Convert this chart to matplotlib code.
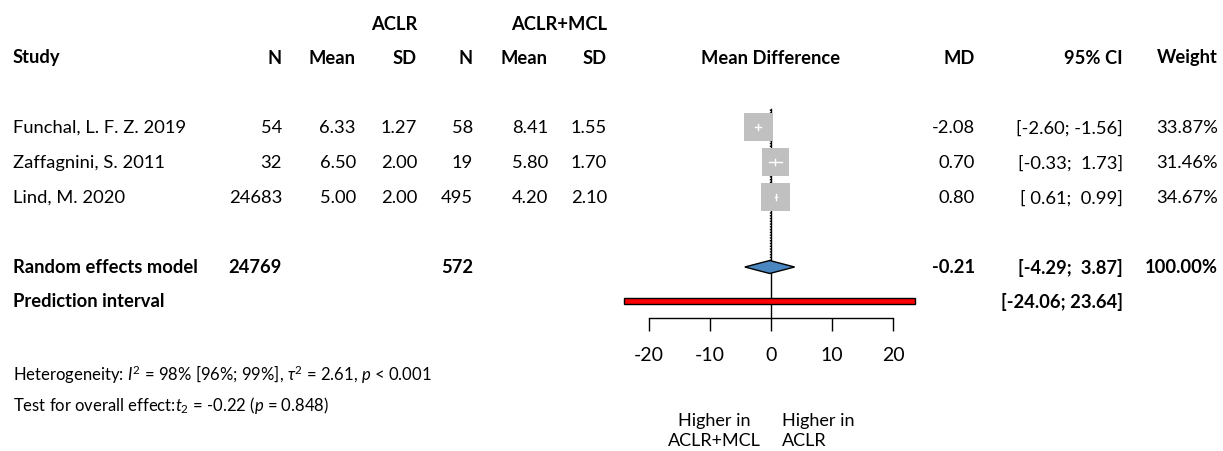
import matplotlib
matplotlib.use("Agg")
import matplotlib.pyplot as plt
import numpy as np

plt.rcParams['font.family'] = ['Lato', 'DejaVu Sans']
plt.rcParams['mathtext.fontset'] = 'custom'
plt.rcParams['mathtext.rm'] = 'Lato'
plt.rcParams['mathtext.it'] = 'Lato:italic'

# study data
studies = ["Funchal, L. F. Z. 2019", "Zaffagnini, S. 2011", "Lind, M. 2020"]
n_aclr = [54, 32, 24683]
mean_aclr = [6.33, 6.50, 5.00]
sd_aclr = [1.27, 2.00, 2.00]
n_mcl = [58, 19, 495]
mean_mcl = [8.41, 5.80, 4.20]
sd_mcl = [1.55, 1.70, 2.10]
md = [-2.08, 0.70, 0.80]
ci_low = [-2.60, -0.33, 0.61]
ci_high = [-1.56, 1.73, 0.99]
weight = [33.87, 31.46, 34.67]

# pooled results
re_n_aclr, re_n_mcl = 24769, 572
re_md, re_low, re_high = -0.21, -4.29, 3.87
pi_low, pi_high = -24.06, 23.64

x_ticks = [-20, -10, 0, 10, 20]

W, H = 1223, 452
fig = plt.figure(figsize=(W / 100, H / 100), dpi=100)
ax = fig.add_axes([0, 0, 1, 1])
ax.set_xlim(0, W)
ax.set_ylim(H, 0)
ax.axis('off')

# row layout (pixels from top)
y_group = 24
y_head = 58
row_y = [128, 163, 198]
y_re = 268
y_pi = 302
fs = 13.2

# column right edges
col_x = [282, 356, 417, 473, 548, 607]
x_md, x_ci, x_w = 975, 1123, 1218
x0 = 13

ax.text(col_x[2], y_group, "ACLR", ha='right', va='center', fontsize=fs, fontweight='bold')
ax.text(col_x[5], y_group, "ACLR+MCL", ha='right', va='center', fontsize=fs, fontweight='bold')
ax.text(x0, y_head, "Study", ha='left', va='center', fontsize=fs, fontweight='bold')
for x, lab in zip(col_x, ["N", "Mean", "SD", "N", "Mean", "SD"]):
    ax.text(x, y_head, lab, ha='right', va='center', fontsize=fs, fontweight='bold')
ax.text(771, y_head, "Mean Difference", ha='center', va='center', fontsize=fs, fontweight='bold')
ax.text(x_md, y_head, "MD", ha='right', va='center', fontsize=fs, fontweight='bold')
ax.text(x_ci, y_head, "95% CI", ha='right', va='center', fontsize=fs, fontweight='bold')
ax.text(x_w, y_head, "Weight", ha='right', va='center', fontsize=fs, fontweight='bold')

for i, y in enumerate(row_y):
    ax.text(x0, y, studies[i], ha='left', va='center', fontsize=fs)
    vals = [f"{n_aclr[i]}", f"{mean_aclr[i]:.2f}", f"{sd_aclr[i]:.2f}",
            f"{n_mcl[i]}", f"{mean_mcl[i]:.2f}", f"{sd_mcl[i]:.2f}"]
    for x, v in zip(col_x, vals):
        ax.text(x, y, v, ha='right', va='center', fontsize=fs)
    ax.text(x_md, y, f"{md[i]:.2f}", ha='right', va='center', fontsize=fs)
    ax.text(x_ci, y, f"[{ci_low[i]:5.2f}; {ci_high[i]:5.2f}]", ha='right', va='center', fontsize=fs)
    ax.text(x_w, y, f"{weight[i]:.2f}%", ha='right', va='center', fontsize=fs)

ax.text(x0, y_re, "Random effects model", ha='left', va='center', fontsize=fs, fontweight='bold')
ax.text(col_x[0], y_re, f"{re_n_aclr}", ha='right', va='center', fontsize=fs, fontweight='bold')
ax.text(col_x[3], y_re, f"{re_n_mcl}", ha='right', va='center', fontsize=fs, fontweight='bold')
ax.text(x_md, y_re, f"{re_md:.2f}", ha='right', va='center', fontsize=fs, fontweight='bold')
ax.text(x_ci, y_re, f"[{re_low:5.2f}; {re_high:5.2f}]", ha='right', va='center', fontsize=fs, fontweight='bold')
ax.text(x_w, y_re, f"{sum(weight):.2f}%", ha='right', va='center', fontsize=fs, fontweight='bold')
ax.text(x0, y_pi, "Prediction interval", ha='left', va='center', fontsize=fs, fontweight='bold')
ax.text(x_ci, y_pi, f"[{pi_low:.2f}; {pi_high:.2f}]", ha='right', va='center', fontsize=fs, fontweight='bold')

ax.text(x0, 375, r"Heterogeneity: $I^2$ = 98% [96%; 99%], $\tau^2$ = 2.61, $p$ < 0.001",
        ha='left', va='center', fontsize=12)
ax.text(x0, 406, r"Test for overall effect:$t_2$ = -0.22 ($p$ = 0.848)",
        ha='left', va='center', fontsize=12)

# forest panel: x in mean difference units, y in the same pixel rows
fx = fig.add_axes([649 / W, 0, 244 / W, 1])
fx.set_xlim(-20, 20)
fx.set_ylim(H, 0)
fx.patch.set_alpha(0)
for s in ['top', 'left', 'right']:
    fx.spines[s].set_visible(False)
fx.spines['bottom'].set_position(('data', 319))
fx.spines['bottom'].set_bounds(-20, 20)
fx.spines['bottom'].set_linewidth(1.0)
fx.set_yticks([])
fx.set_xticks(x_ticks)
fx.set_xticklabels([str(t) for t in x_ticks], fontsize=14)
fx.tick_params(axis='x', direction='out', length=9.5, width=1.0, pad=11)

fx.plot([0, 0], [110, 319], color='black', lw=1.0, zorder=1)
fx.plot([re_md, re_md], [110, y_re - 7], color='black', lw=1.0, ls=(0, (1, 1)), zorder=1)

sizes = 430 * np.array(weight) / max(weight)
fx.scatter(md, row_y, s=sizes, marker='s', color='#c0c0c0', zorder=3, linewidths=0)
for i, y in enumerate(row_y):
    fx.plot([ci_low[i], ci_high[i]], [y, y], color='white', lw=1.0, zorder=4)
    fx.plot([md[i], md[i]], [y - 3, y + 3], color='white', lw=1.0, zorder=4)

fx.fill([re_low, re_md, re_high, re_md], [y_re, y_re - 6.5, y_re, y_re + 6.5],
        facecolor='#4a86c0', edgecolor='black', lw=1.0, zorder=3)
fx.fill([pi_low, pi_high, pi_high, pi_low], [y_pi - 3, y_pi - 3, y_pi + 3, y_pi + 3],
        facecolor='#ff0000', edgecolor='black', lw=1.0, zorder=3, clip_on=False)

ax.text(761, 431, "Higher in\nACLR+MCL", ha='right', va='center', fontsize=13,
        multialignment='center', linespacing=1.25)
ax.text(782, 431, "Higher in\nACLR", ha='left', va='center', fontsize=13,
        multialignment='left', linespacing=1.25)

fig.savefig("out.png", dpi=100)
